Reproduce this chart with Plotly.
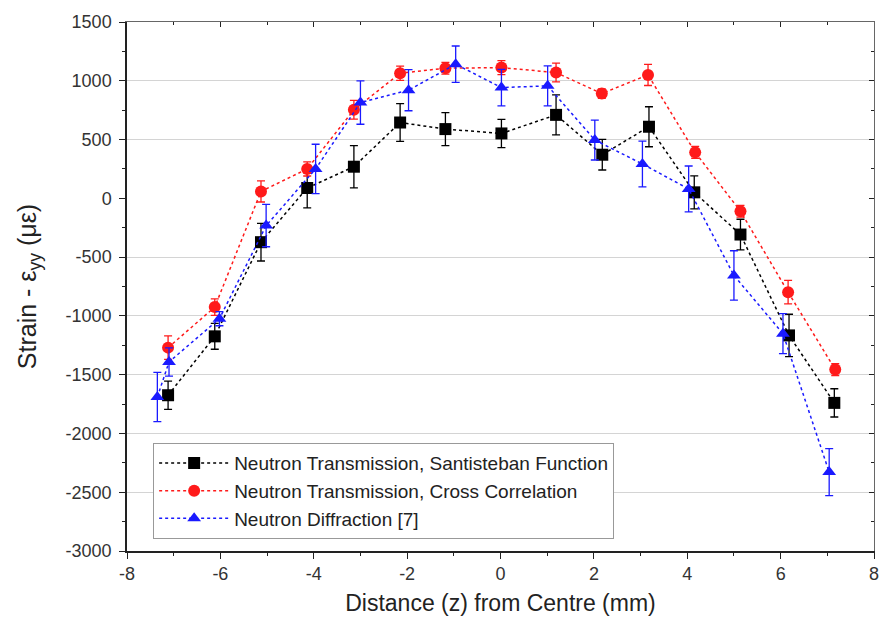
import plotly.graph_objects as go

# Data
x_sant = [-7.12, -6.12, -5.13, -4.14, -3.14, -2.15, -1.18, 0.02, 1.19, 2.18, 3.18, 4.15, 5.14, 6.18, 7.15]
y_sant = [-1675, -1174, -373, 88, 269, 645, 589, 552, 710, 371, 609, 51, -308, -1166, -1740]
e_sant = [120, 110, 160, 170, 180, 160, 140, 120, 170, 130, 170, 140, 130, 180, 120]

x_cc = [-7.12, -6.12, -5.13, -4.14, -3.14, -2.15, -1.18, 0.02, 1.19, 2.17, 3.16, 4.17, 5.14, 6.16, 7.17]
y_cc = [-1270, -925, 59, 250, 753, 1064, 1107, 1112, 1070, 891, 1050, 391, -110, -798, -1457]
e_cc = [100, 70, 90, 60, 80, 60, 50, 60, 80, 40, 90, 50, 50, 100, 50]

x_nd = [-7.35, -7.1, -6.02, -5.02, -3.96, -3.0, -1.97, -0.96, 0.02, 1.01, 2.02, 3.04, 4.03, 5.0, 6.05, 7.04]
y_nd = [-1690, -1392, -1024, -232, 250, 815, 920, 1141, 942, 957, 496, 292, 80, -656, -1151, -2329]
e_nd = [210, 120, 60, 180, 210, 185, 175, 155, 155, 170, 170, 195, 195, 210, 170, 200]

names = ["Neutron Transmission, Santisteban Function",
         "Neutron Transmission, Cross Correlation",
         "Neutron Diffraction [7]"]
colors = ["#000000", "#ff1a1a", "#1a1aff"]
symbols = ["square", "circle", "triangle-up"]

x_range = [-8, 8]
y_range = [-3000, 1500]
x_ticks = [-8, -6, -4, -2, 0, 2, 4, 6, 8]
y_ticks = [-3000, -2500, -2000, -1500, -1000, -500, 0, 500, 1000, 1500]
grid_vals = [-2500, -2000, -1500, -1000, -500, 500, 1000]

FONT = "Liberation Sans, Arial, sans-serif"

fig = go.Figure()
series = [(x_sant, y_sant, e_sant), (x_cc, y_cc, e_cc), (x_nd, y_nd, e_nd)]
for (xs, ys, es), nm, c, s in zip(series, names, colors, symbols):
    fig.add_trace(go.Scatter(
        x=xs, y=ys, name=nm, mode="lines+markers",
        line=dict(color=c, width=1.5, dash="dot"),
        marker=dict(symbol=s, size=12, color=c),
        error_y=dict(type="data", array=es, visible=True, color=c, thickness=1.3, width=4),
    ))

# invisible traces to activate helper axes
fig.add_trace(go.Scatter(x=x_range, y=y_range, xaxis="x2", yaxis="y2", mode="markers",
                         marker=dict(opacity=0), showlegend=False, hoverinfo="skip"))
fig.add_trace(go.Scatter(x=x_range, y=y_range, xaxis="x", yaxis="y3", mode="markers",
                         marker=dict(opacity=0), showlegend=False, hoverinfo="skip"))

fig.update_layout(
    width=891, height=636,
    margin=dict(l=127, r=13, t=21, b=85),
    paper_bgcolor="white", plot_bgcolor="white",
    font=dict(family=FONT, color="#333333"),
    showlegend=True,
    legend=dict(
        x=0.035, y=0.204, xanchor="left", yanchor="top",
        bgcolor="rgba(255,255,255,1)", bordercolor="#999999", borderwidth=1,
        font=dict(family=FONT, size=19, color="#222222"),
        tracegroupgap=0, itemwidth=70,
    ),
    xaxis=dict(
        range=x_range, tickvals=x_ticks, ticktext=[str(v) for v in x_ticks],
        ticks="outside", ticklen=6, tickwidth=1.2, tickcolor="#222",
        minor=dict(ticks="outside", ticklen=3, tickwidth=1, dtick=1, tickcolor="#222"),
        showline=True, linecolor="#222", linewidth=1.5,
        showgrid=False, zeroline=False,
        tickfont=dict(size=18, color="#333"),
        title=dict(text="Distance (z) from Centre (mm)", font=dict(size=23, color="#222"), standoff=12),
    ),
    xaxis2=dict(
        range=x_range, overlaying="x", side="top", tickvals=x_ticks,
        ticks="inside", ticklen=5, tickwidth=1.2, tickcolor="#222",
        minor=dict(ticks="inside", ticklen=3, dtick=1, tickcolor="#222"),
        showticklabels=False, showline=True, linecolor="#666", linewidth=1.2,
        showgrid=False, zeroline=False,
    ),
    yaxis=dict(
        range=y_range, tickvals=y_ticks, ticktext=[str(v) for v in y_ticks],
        ticks="outside", ticklen=6, tickwidth=1.2, tickcolor="#222",
        minor=dict(ticks="outside", ticklen=3, dtick=250, tickcolor="#222"),
        showline=True, linecolor="#222", linewidth=1.5,
        showgrid=False, zeroline=False,
        tickfont=dict(size=18, color="#333"), ticklabelstandoff=4,
        title=dict(text="Strain - ε<sub>yy</sub> (με)", font=dict(size=25, color="#222"), standoff=22),
    ),
    yaxis2=dict(
        range=y_range, overlaying="y", side="right", anchor="x2", tickvals=y_ticks,
        ticks="inside", ticklen=5, tickwidth=1.2, tickcolor="#222",
        minor=dict(ticks="inside", ticklen=3, dtick=250, tickcolor="#222"),
        showticklabels=False, showline=True, linecolor="#666", linewidth=1.2,
        showgrid=False, zeroline=False,
    ),
    yaxis3=dict(
        range=y_range, overlaying="y", side="left", tickvals=grid_vals,
        showticklabels=False, ticks="", showline=False,
        showgrid=True, gridcolor="#d4d4d4", gridwidth=1, zeroline=False,
        layer="below traces",
    ),
)

fig.write_html("out.html")
